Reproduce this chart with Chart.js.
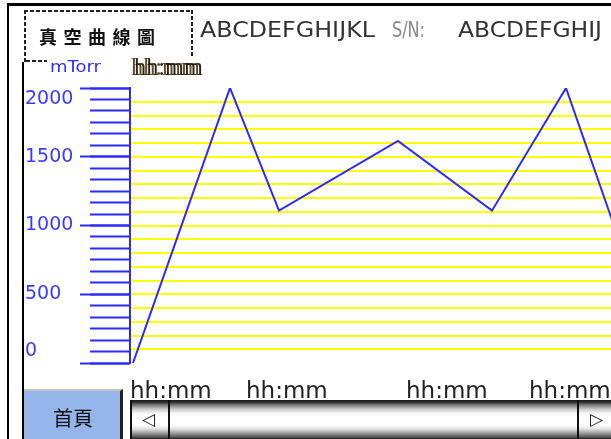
<!DOCTYPE html>
<html><head><meta charset="utf-8">
<script src="https://cdn.jsdelivr.net/npm/chart.js@4"></script>
<style>
html,body{margin:0;padding:0;background:#fff;overflow:hidden;width:611px;height:439px;}
#wrap{position:absolute;left:0;top:0;width:611px;height:439px;overflow:hidden;background:#fff;}
#c{position:absolute;left:0;top:0;}
#deco{position:absolute;left:0;top:0;}
.btn{position:absolute;left:24px;top:389px;width:96px;height:50px;background:#95b4ea;border-top:2px solid #c4c4c4;border-right:3px solid #222;}
.sb{position:absolute;left:130px;top:400px;width:520px;height:39px;border-left:2px solid #111;
 background:linear-gradient(to bottom,#1a1a1a 0px,#2a2a2a 2px,#7a7a7a 5px,#c8c8c8 9px,#f4f4f4 13px,#fff 16px,#fff 25px,#e0e0e0 29px,#a0a0a0 33px,#555 37px,#222 39px);}
.sbl{position:absolute;left:0;top:0;width:36px;height:39px;border-right:2px solid #111;}
.sbr{position:absolute;left:445px;top:0;width:40px;height:39px;border-left:2px solid #111;}
.arr{position:absolute;top:9px;font:17px "DejaVu Sans";color:#111;line-height:20px;}
</style></head>
<body>
<div id="wrap">
<canvas id="c" width="720" height="400" style="width:720px;height:400px"></canvas>
<svg id="deco" width="611" height="439" xmlns="http://www.w3.org/2000/svg">
  <rect x="7" y="3" width="2" height="436" fill="#000"/>
  <rect x="7" y="3" width="604" height="3" fill="#000"/>
  <rect x="22" y="62" width="2" height="377" fill="#000"/>
  <g stroke="#222" stroke-width="2" stroke-dasharray="4 2" fill="none">
    <line x1="25" y1="10" x2="25" y2="62"/>
    <line x1="24" y1="11" x2="193" y2="11"/>
    <line x1="192" y1="10" x2="192" y2="57"/>
    <line x1="26" y1="61" x2="47" y2="61"/>
  </g>
  <text x="39" y="44" font-family="Noto Sans CJK TC" font-weight="bold" font-size="18" fill="#111" textLength="116" lengthAdjust="spacing">真空曲線圖</text>
  <text x="50" y="72" font-family="DejaVu Sans" font-size="16" fill="#2f2fff" textLength="51" lengthAdjust="spacingAndGlyphs">mTorr</text>
  <text x="131" y="75" font-family="Liberation Serif" font-size="25" fill="#6a4a18" textLength="69" lengthAdjust="spacingAndGlyphs">hh:mm</text>
  <text x="134" y="75" font-family="Liberation Serif" font-size="25" fill="#000" fill-opacity="0.85" textLength="69" lengthAdjust="spacingAndGlyphs">hh:mm</text>
  <text x="200" y="37" font-family="DejaVu Sans" font-size="22" fill="#333" textLength="175" lengthAdjust="spacingAndGlyphs">ABCDEFGHIJKL</text>
  <text x="392" y="37" font-family="DejaVu Sans" font-size="22" fill="#888" textLength="33" lengthAdjust="spacingAndGlyphs">S/N:</text>
  <text x="458" y="37" font-family="DejaVu Sans" font-size="22" fill="#333" textLength="144" lengthAdjust="spacingAndGlyphs">ABCDEFGHIJ</text>
</svg>
<div class="btn"></div>
<svg style="position:absolute;left:0;top:0" width="611" height="439" xmlns="http://www.w3.org/2000/svg">
  <text x="53" y="426" font-family="Noto Sans CJK TC" font-size="20" fill="#111" textLength="40" lengthAdjust="spacingAndGlyphs">首頁</text>
</svg>
<div class="sb">
  <div class="sbl"><span class="arr" style="left:10px">◁</span></div>
  <div class="sbr"><span class="arr" style="left:11px">▷</span></div>
</div>
</div>
<script>
// elapsed time (chart units) and vacuum values (mTorr)
const timeMin = [3, 100, 149, 268, 362, 436, 484];
const vacuum = [0, 2000, 1108, 1615, 1108, 2000, 1000];
const xTickTimes = [0, 116, 276, 399];
const xTickLabels = ['hh:mm', 'hh:mm', 'hh:mm', 'hh:mm'];
const yMajorTicks = [0, 500, 1000, 1500, 2000];
const yTickLabels = ['0', '500', '1000', '1500', '2000'];
const yMin = 0, yMax = 2000, xMin = 0, xMax = 590;
const yGridStep = 100;
const yMinorDivisions = 24;

const BLUE = '#2a2aff';

new Chart(document.getElementById('c'), {
  type: 'line',
  data: {
    datasets: [{
      data: timeMin.map((t, i) => ({ x: t, y: vacuum[i] })),
      borderColor: BLUE,
      borderWidth: 2,
      pointRadius: 0,
      tension: 0,
      fill: false,
      yAxisID: 'y'
    }]
  },
  options: {
    responsive: false,
    animation: false,
    devicePixelRatio: 1,
    layout: { padding: { left: 25, top: 88, right: 0, bottom: 0 } },
    plugins: { legend: { display: false }, tooltip: { enabled: false } },
    scales: {
      x: {
        type: 'linear', min: xMin, max: xMax, position: 'bottom',
        grid: { display: false },
        border: { display: false },
        afterBuildTicks: s => { s.ticks = xTickTimes.map(v => ({ value: v })); },
        afterFit: s => { s.height = 37; },
        ticks: {
          autoSkip: false, maxRotation: 0, align: 'start', padding: 7,
          color: '#222', font: { family: 'DejaVu Sans', size: 23 },
          callback: (v, i) => xTickLabels[i]
        }
      },
      y: {
        type: 'linear', min: yMin, max: yMax, position: 'left', weight: 10,
        afterBuildTicks: s => { s.ticks = yMajorTicks.map(v => ({ value: v })); },
        afterFit: s => { s.width = 105; },
        grid: { drawOnChartArea: false, tickLength: 50, tickColor: BLUE, tickWidth: 2 },
        border: { display: true, color: BLUE, width: 2 },
        ticks: {
          autoSkip: false, crossAlign: 'far', color: '#3b3bff',
          font: { family: 'DejaVu Sans', size: 19, lineHeight: '23px' },
          callback: (v) => {
            const s = yTickLabels[yMajorTicks.indexOf(v)];
            if (v === yMax) return ['', s];
            if (v === yMin) return [s, ''];
            return s;
          }
        }
      },
      yMinor: {
        type: 'linear', min: yMin, max: yMax, position: 'left', weight: 0,
        afterBuildTicks: s => {
          s.ticks = Array.from({ length: yMinorDivisions + 1 }, (_, i) => ({ value: yMin + i * (yMax - yMin) / yMinorDivisions }));
        },
        afterFit: s => { s.width = 0; },
        grid: { drawOnChartArea: false, tickLength: 40, tickColor: BLUE, tickWidth: 2 },
        border: { display: false },
        ticks: { display: false }
      },
      yGrid: {
        type: 'linear', min: yMin, max: yMax, position: 'right',
        afterFit: s => { s.width = 0; },
        grid: {
          drawTicks: false, lineWidth: 2,
          color: c => (c.tick && (c.tick.value === yMin || c.tick.value === yMax)) ? 'rgba(0,0,0,0)' : '#ffff00'
        },
        border: { display: false },
        ticks: { display: false, stepSize: yGridStep }
      }
    }
  }
});
</script>
</body></html>
